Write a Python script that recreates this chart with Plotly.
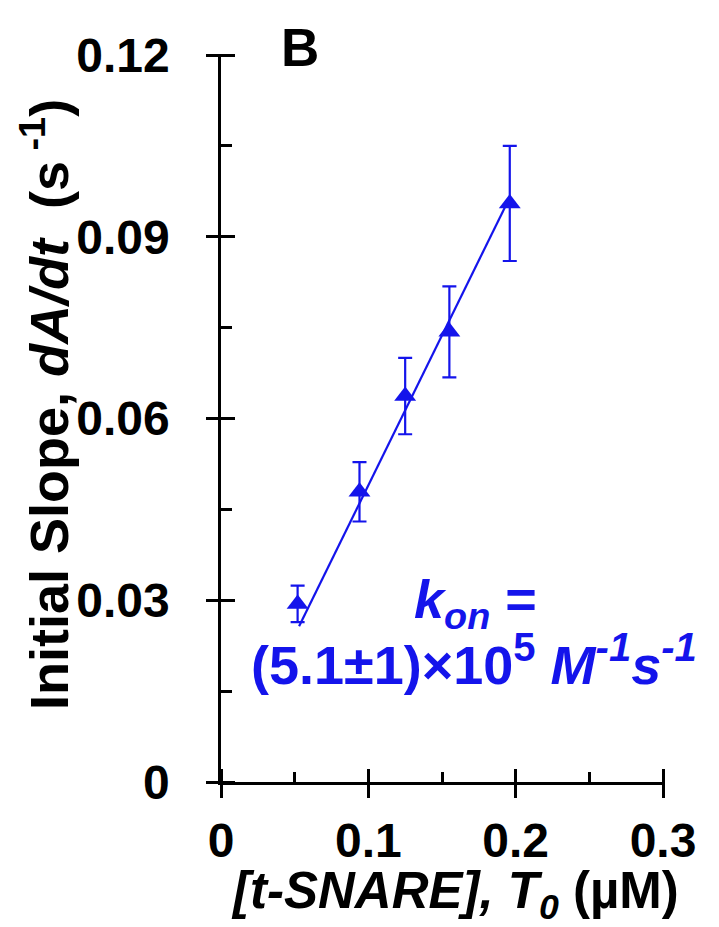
import plotly.graph_objects as go

# ---- data ----
t_snare = [0.052, 0.094, 0.125, 0.155, 0.196]          # µM
init_slope = [0.0294, 0.0479, 0.0637, 0.0743, 0.0955]   # s^-1
slope_err = [0.0030, 0.0049, 0.0063, 0.0075, 0.0095]
fit_x = [0.053, 0.196]
fit_y = [0.0257, 0.0965]

x_ticks = [0, 0.1, 0.2, 0.3]
x_ticklabels = ["0", "0.1", "0.2", "0.3"]
x_minor_ticks = [0.05, 0.15, 0.25]
y_ticks = [0, 0.03, 0.06, 0.09, 0.12]
y_ticklabels = ["0", "0.03", "0.06", "0.09", "0.12"]
y_minor_ticks = [0.015, 0.045, 0.075, 0.105]

BLUE = "rgb(20,20,235)"
SANS = "Liberation Sans, Arial, sans-serif"
NARROW = "Liberation Sans Narrow, Arial Narrow, Liberation Sans, sans-serif"

# page has an 8px default body margin -> shrink figure so plot area lands right
OFF = 8
W, H = 719 - OFF, 927 - OFF
L, R, T, B = 221 - OFF, 56, 55 - OFF, 145
PW, PH = W - L - R, H - T - B

def px(xp):   # page pixel -> paper x
    return (xp - OFF - L) / PW

def py(yp):   # page pixel -> paper y
    return (H - B - (yp - OFF)) / PH

fig = go.Figure()

fig.add_trace(go.Scatter(
    x=fit_x, y=fit_y, mode="lines",
    line=dict(color=BLUE, width=2.2), showlegend=False, hoverinfo="skip",
))
fig.add_trace(go.Scatter(
    x=t_snare, y=init_slope, mode="markers",
    marker=dict(symbol="triangle-up", size=19, color=BLUE),
    error_y=dict(type="data", array=slope_err, visible=True,
                 color=BLUE, thickness=2.2, width=7),
    showlegend=False,
))
# dummy traces so the tick-only overlay axes get drawn
fig.add_trace(go.Scatter(x=[None], y=[None], xaxis="x2", yaxis="y2",
                         showlegend=False, hoverinfo="skip"))
fig.add_trace(go.Scatter(x=[None], y=[None], xaxis="x3", yaxis="y3",
                         showlegend=False, hoverinfo="skip"))

tick_font = dict(family=SANS, size=48, color="black", weight="bold")
MAJ_IN, MAJ_OUT, MIN_IN_X, MIN_IN_Y = 14, 15, 10, 11

tick_only = dict(showgrid=False, zeroline=False, showline=False,
                 showticklabels=False, automargin=False,
                 tickcolor="black", tickwidth=2.5)

fig.update_layout(
    width=W, height=H,
    margin=dict(l=L, r=R, t=T, b=B),
    paper_bgcolor="white", plot_bgcolor="white",
    # main axes: line + labels
    xaxis=dict(showgrid=False, zeroline=False, showline=True, linecolor="black",
               linewidth=2.5, automargin=False, range=[0, 0.3],
               tickvals=x_ticks, ticktext=x_ticklabels, ticks="",
               tickfont=tick_font, ticklabelstandoff=MAJ_OUT),
    yaxis=dict(showgrid=False, zeroline=False, showline=True, linecolor="black",
               linewidth=2.5, automargin=False, range=[0, 0.12],
               tickvals=y_ticks, ticktext=y_ticklabels, ticks="",
               tickfont=tick_font, ticklabelstandoff=24 + MAJ_OUT),
    # major ticks crossing the axis lines (axis shifted inward, long outside ticks)
    xaxis2=dict(**tick_only, overlaying="x", anchor="free",
                position=MAJ_IN / PH, side="bottom", range=[0, 0.3],
                tickvals=x_ticks, ticks="outside", ticklen=MAJ_IN + MAJ_OUT),
    yaxis2=dict(**tick_only, overlaying="y", anchor="free",
                position=MAJ_IN / PW, side="left", range=[0, 0.12],
                tickvals=y_ticks, ticks="outside", ticklen=MAJ_IN + MAJ_OUT),
    # minor ticks on the inner side
    xaxis3=dict(**tick_only, overlaying="x", anchor="y", side="bottom",
                range=[0, 0.3], tickvals=x_minor_ticks, ticks="inside",
                ticklen=MIN_IN_X),
    yaxis3=dict(**tick_only, overlaying="y", anchor="x", side="left",
                range=[0, 0.12], tickvals=y_minor_ticks, ticks="inside",
                ticklen=MIN_IN_Y),
)

ann = dict(xref="paper", yref="paper", showarrow=False,
           xanchor="center", yanchor="middle")

# axis titles as annotations for exact placement
fig.add_annotation(**ann, x=px(45), y=py(405),
                   text="Initial Slope, <i>dA/dt</i>  (s<sup> -1</sup>)",
                   textangle=-90,
                   font=dict(family=NARROW, size=54, color="black", weight="bold"))
fig.add_annotation(**ann, x=px(455), y=py(895),
                   text="<i>[t-SNARE], T<sub>0</sub></i> (µM)",
                   font=dict(family=SANS, size=51, color="black", weight="bold"))

fig.add_annotation(**ann, x=px(300), y=py(47), text="<b>B</b>",
                   font=dict(family=SANS, size=53, color="black"))
fig.add_annotation(**ann, x=px(475), y=py(603),
                   text="<b><i>k<sub>on</sub></i> =</b>",
                   font=dict(family=SANS, size=54, color=BLUE))
fig.add_annotation(**ann, x=px(474), y=py(660),
                   text="<b>(5.1±1)×10<sup><span style='font-size:40px'>5</span></sup> "
                        "<i>M<sup><span style='font-size:40px'>-1</span></sup>"
                        "s<sup><span style='font-size:40px'>-1</span></sup></i></b>",
                   font=dict(family=SANS, size=54, color=BLUE))

fig.write_html("out.html")
